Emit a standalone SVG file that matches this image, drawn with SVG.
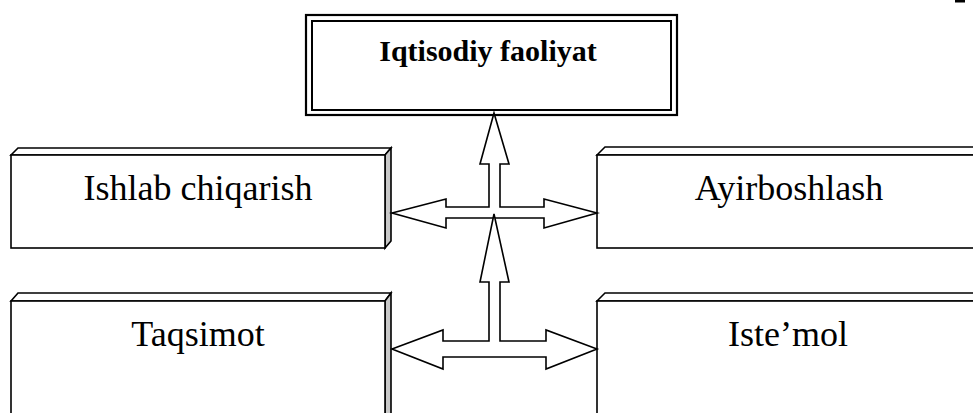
<svg xmlns="http://www.w3.org/2000/svg" width="973" height="413" viewBox="0 0 973 413">
<style>
.face{fill:#fff;stroke:#000;stroke-width:1.6;stroke-linejoin:miter}
.side{fill:#c8c8c8;stroke:#000;stroke-width:1.6}
.lbl{font-family:"Liberation Serif","Times New Roman",serif;font-size:36px;fill:#000;text-anchor:middle}
.ttl{font-family:"Liberation Serif","Times New Roman",serif;font-size:30px;font-weight:bold;fill:#000;text-anchor:middle}
.arr{fill:#fff;stroke:#000;stroke-width:1.6;stroke-linejoin:miter}
</style>
<rect width="973" height="413" fill="#fff"/>
<g id="top">
<rect x="306" y="15" width="371" height="100" fill="#fff" stroke="#000" stroke-width="2.2"/>
<rect x="312" y="21" width="359" height="89" fill="none" stroke="#000" stroke-width="2"/>
<text class="ttl" x="488" y="61">Iqtisodiy faoliyat</text>
</g>
<g id="ishlab">
<polygon class="face" points="11,155 18,148 391,148 385,155"/>
<polygon class="side" points="385,155 391,148 391,241 385,248"/>
<rect class="face" x="11" y="155" width="374" height="93"/>
<text class="lbl" x="198" y="200">Ishlab chiqarish</text>
</g>
<g id="ayirboshlash">
<polygon class="face" points="597,155 605,147 990,147 982,155"/>
<rect class="face" x="597" y="155" width="390" height="93"/>
<text class="lbl" x="789" y="200">Ayirboshlash</text>
</g>
<g id="taqsimot">
<polygon class="face" points="11,301 18,293 391,293 385,301"/>
<polygon class="side" points="385,301 391,293 391,420 385,420"/>
<rect class="face" x="11" y="301" width="374" height="130"/>
<text class="lbl" x="198" y="346">Taqsimot</text>
</g>
<g id="istemol">
<polygon class="face" points="597,301 605,293 990,293 982,301"/>
<rect class="face" x="597" y="301" width="390" height="130"/>
<text class="lbl" x="788" y="346">Iste’mol</text>
</g>
<g id="connectors">
<polygon class="arr" points="494,113 509,164 500,164 500,207 544,207 544,199 597,213 544,228 544,218 446,218 446,228 392,213 446,199 446,207 489,207 489,164 480,164"/>
<polygon class="arr" points="494,214 509,282 500,282 500,341 546,341 546,330 597,349 546,369 546,357 443,357 443,369 392,349 443,330 443,341 489,341 489,282 480,282"/>
</g>
<rect x="955" y="0" width="10" height="2.5" fill="#000"/>
</svg>
